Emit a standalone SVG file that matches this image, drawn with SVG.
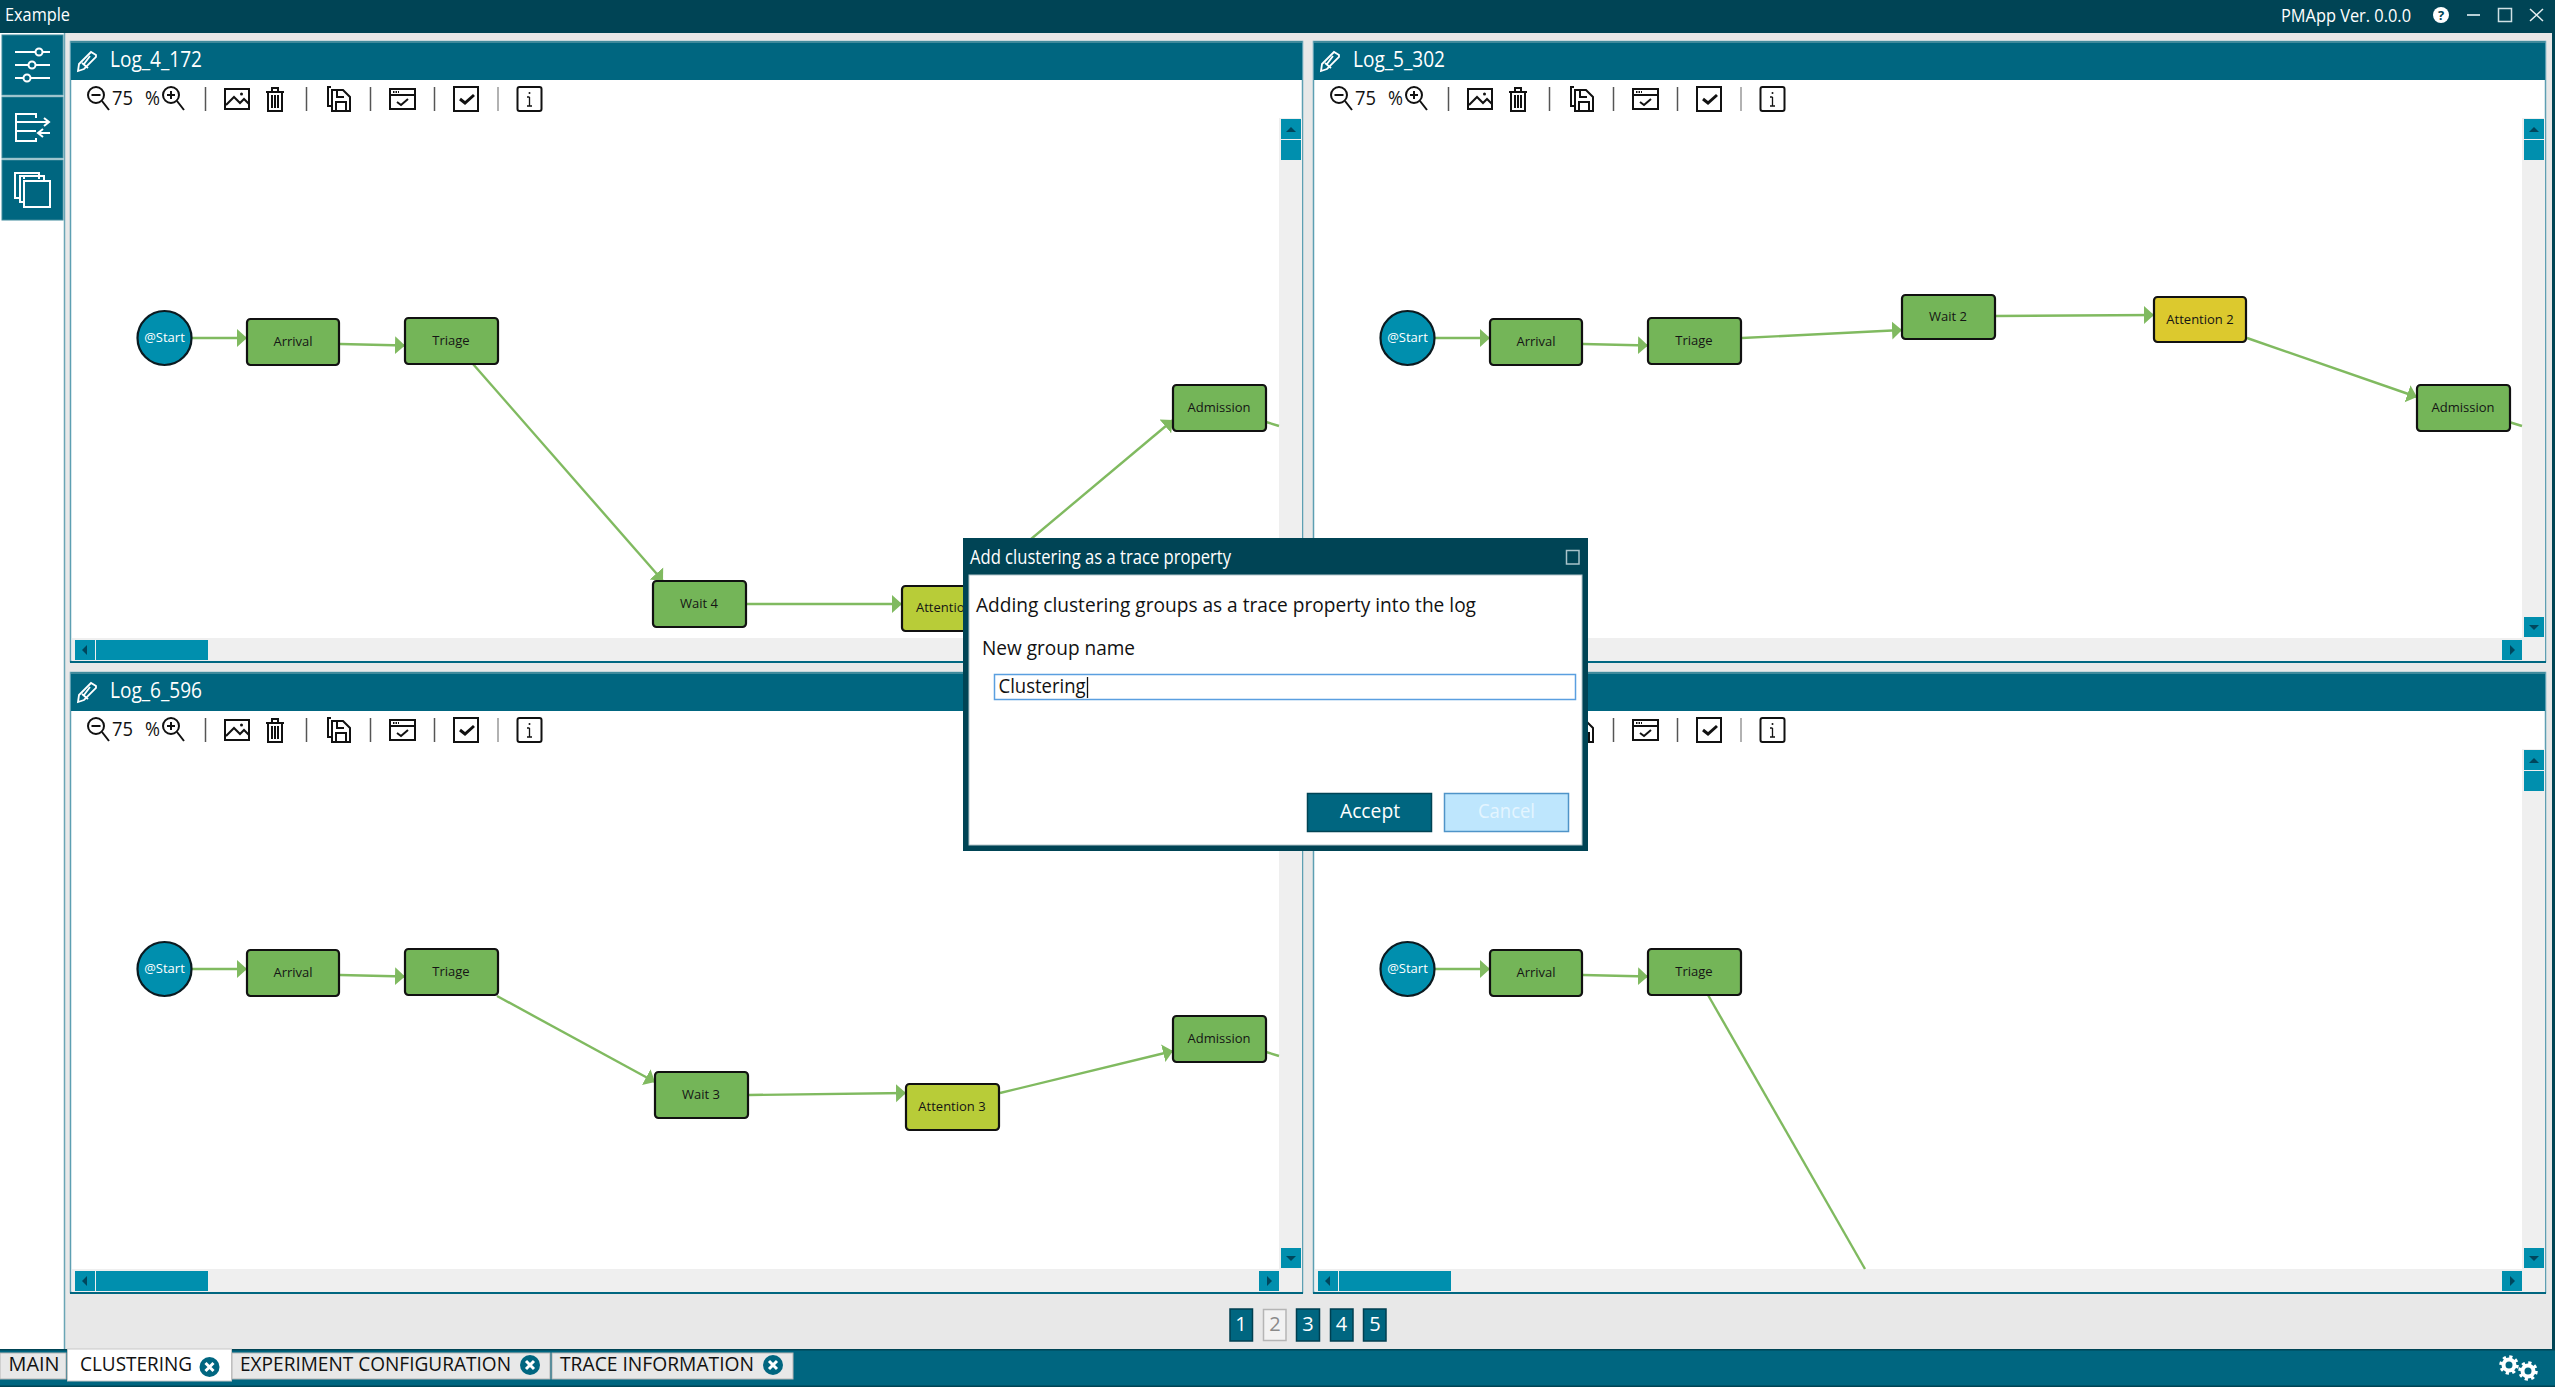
<svg xmlns="http://www.w3.org/2000/svg" xmlns:xlink="http://www.w3.org/1999/xlink" width="2555" height="1387" viewBox="0 0 2555 1387">
<style>
text{font-family:"Open Sans","Noto Sans","Liberation Sans",sans-serif;}
.ui{font-size:20px;fill:#111;}
.wh{font-size:20px;fill:#fff;}
.hd{font-size:21px;fill:#fff;}
.nt{font-size:13px;fill:#151515;text-anchor:middle;}
.st{font-size:13px;fill:#fff;text-anchor:middle;}
.act{fill:#74b558;stroke:#111;stroke-width:2.2;}
.yg{fill:#b8cc38;stroke:#111;stroke-width:2.2;}
.yl{fill:#dcc92e;stroke:#111;stroke-width:2.2;}
.start{fill:#008fae;stroke:#0b1a20;stroke-width:2.2;}
.edge{stroke:#80ba60;stroke-width:2.4;fill:none;}
.ic{fill:none;stroke:#111;stroke-width:2;}
.icw{fill:none;stroke:#fff;stroke-width:2;}
.sbtn{fill:#006680;stroke:#3f8a9c;stroke-width:1;}
.tb{fill:#008fae;}
.ar{fill:#00465c;}
.sep{stroke:#555;stroke-width:1.5;}
.tab{fill:#e8e8e8;stroke:#b5b5b5;stroke-width:1;}
.pg{fill:#006680;stroke:#003f50;stroke-width:1.5;}
</style>
<defs>
<marker id="arrow" markerUnits="userSpaceOnUse" markerWidth="11" markerHeight="20" refX="10" refY="10" orient="auto">
<polygon points="0,1 10,10 0,19" fill="#80ba60"/>
</marker>
<g id="chrome">
<rect x="70.5" y="41.5" width="1232" height="620" fill="#fff" stroke="#5d9fb2" stroke-width="1.5"/>
<line x1="70" y1="662" x2="1303" y2="662" stroke="#006680" stroke-width="2"/>
<rect x="71" y="41" width="1231" height="39" fill="#006680"/>
<rect x="71" y="41" width="1231" height="2" fill="#3f8a9c"/>
<rect x="72" y="638" width="1230" height="23" fill="#efefef"/>
<rect x="1279" y="118" width="23" height="543" fill="#efefef"/>
<rect class="tb" x="1281" y="119" width="20" height="20"/>
<polygon class="ar" points="1286,132 1296,132 1291,127"/>
<rect class="tb" x="1281" y="140" width="20" height="20"/>
<rect class="tb" x="1281" y="617" width="20" height="20"/>
<polygon class="ar" points="1286,625 1296,625 1291,630"/>
<rect class="tb" x="75" y="640" width="20" height="20"/>
<polygon class="ar" points="87,645 87,655 82,650"/>
<rect class="tb" x="96" y="640" width="112" height="20"/>
<rect class="tb" x="1259" y="640" width="20" height="20"/>
<polygon class="ar" points="1267,645 1267,655 1272,650"/>
<path d="M78 71 L79 64 L91 52 L96 55 L96 57 L84 69 Z M82 63 L88 68 M90 56 L84 64" fill="none" stroke="#fff" stroke-width="1.8"/>
</g>
<g id="tools">
<circle class="ic" cx="96" cy="95" r="8" stroke-width="2.2"/><path class="ic" d="M91.5 95h9M102 101l7 9" stroke-width="2.5"/>
<circle class="ic" cx="171" cy="95" r="8" stroke-width="2.2"/><path class="ic" d="M167 95h8M171 91v8M177 101l7 9" stroke-width="2.2"/>
<line class="sep" x1="205.5" y1="87" x2="205.5" y2="111"/>
<rect class="ic" x="225" y="89" width="24" height="20"/><path class="ic" d="M226 105l8-8 6 6 4-4 5 5" stroke-width="1.5"/><circle cx="241.500" cy="94" r="1.500" fill="#111"/>
<path class="ic" d="M266 92h18M272 92v-4h6v4M268 92v19h14V92M272 95v13M275 95v13M278 95v13" stroke-width="1.500"/>
<line class="sep" x1="306.500" y1="87" x2="306.500" y2="111"/>
<path class="ic" d="M331 87h-3v19h4M332 90h11l7 7v14h-18zM337 90v7h7M336 111v-9h10v9" stroke-width="1.700"/>
<line class="sep" x1="370.500" y1="87" x2="370.500" y2="111"/>
<rect class="ic" x="390" y="89" width="25" height="20"/><path class="ic" d="M390 95h25M397 102l4 3 7-6" stroke-width="1.500"/><path d="M393 92h6" stroke="#111" stroke-width="2" stroke-dasharray="1.500 1"/>
<line class="sep" x1="434.500" y1="87" x2="434.500" y2="111"/>
<rect class="ic" x="454" y="87" width="24" height="24"/><path d="M460 99l5 4 9-8" fill="none" stroke="#111" stroke-width="3"/>
<line x1="498" y1="87" x2="498" y2="111" stroke="#999" stroke-width="1.500"/>
<rect class="ic" x="517.500" y="87" width="24" height="24" rx="2"/><path d="M529.500 97v9M527 106h5M527 97h2.500" stroke="#111" stroke-width="1.300" fill="none"/><circle cx="529.500" cy="93" r="1" fill="#111"/>
</g>
</defs>
<rect width="2555" height="1387" fill="#e8e8e8"/>
<g id="titlebar">
<rect width="2555" height="33" fill="#004455"/>
<text x="5" y="21" class="wh" style="font-size:18px" textLength="65" lengthAdjust="spacingAndGlyphs">Example</text>
<text x="2281" y="22" class="wh" style="font-size:19px" textLength="130" lengthAdjust="spacingAndGlyphs">PMApp Ver. 0.0.0</text>
<circle cx="2441" cy="15" r="8" fill="#fff"/>
<text x="2441" y="20" text-anchor="middle" style="font-size:13px;font-weight:700;fill:#004455">?</text>
<line x1="2467" y1="15" x2="2480" y2="15" stroke="#b7d0d6" stroke-width="2"/>
<rect x="2498.500" y="8.500" width="13" height="13" fill="none" stroke="#cfe0e4" stroke-width="1.500"/>
<path d="M2530 9l13 12M2543 9l-13 12" stroke="#e6eef0" stroke-width="1.500" fill="none"/>
</g>
<rect x="2552" y="33" width="3" height="1317" fill="#004455"/>
<g id="sidebar">
<rect x="0" y="33" width="64" height="1317" fill="#fff"/>
<line x1="64.500" y1="33" x2="64.500" y2="1350" stroke="#6aa5b5" stroke-width="1.500"/>
<rect class="sbtn" x="2" y="35" width="61" height="60"/>
<rect class="sbtn" x="2" y="97" width="61" height="61"/>
<rect class="sbtn" x="2" y="160" width="61" height="60"/>
<path class="icw" d="M15 52h20M43 52h7M15 65h13M36 65h14M15 78h8M31 78h19"/>
<circle class="icw" cx="39" cy="52" r="3.500"/><circle class="icw" cx="32" cy="65" r="3.500"/><circle class="icw" cx="27" cy="78" r="3.500"/>
<path class="icw" d="M36 118v-4H16v27h20v-3M16 122h20M16 131h20M36 122h13M44 118l5 4-5 4M50 133H38M43 129l-5 4 5 4"/>
<path class="icw" d="M20 198h-5v-25h24v6"/><path class="icw" d="M24 179v-2"/>
<rect class="icw" x="20" y="176" width="24" height="26"/><rect x="24" y="181" width="26" height="26" fill="#006680" stroke="#fff" stroke-width="2"/>
</g>
<g id="panels">
<use xlink:href="#chrome" href="#chrome"/>
<use xlink:href="#chrome" href="#chrome" transform="translate(1243,0)"/>
<use xlink:href="#chrome" href="#chrome" transform="translate(0,631)"/>
<use xlink:href="#chrome" href="#chrome" transform="translate(1243,631)"/>
<use xlink:href="#tools" href="#tools"/>
<use xlink:href="#tools" href="#tools" transform="translate(1243,0)"/>
<use xlink:href="#tools" href="#tools" transform="translate(0,631)"/>
<use xlink:href="#tools" href="#tools" transform="translate(1243,631)"/>
<text x="110" y="67" class="hd" textLength="92" lengthAdjust="spacingAndGlyphs">Log_4_172</text>
<text x="1353" y="67" class="hd" textLength="92" lengthAdjust="spacingAndGlyphs">Log_5_302</text>
<text x="110" y="698" class="hd" textLength="92" lengthAdjust="spacingAndGlyphs">Log_6_596</text>
<text x="112" y="105" class="ui" textLength="21" lengthAdjust="spacingAndGlyphs">75</text>
<text x="145" y="105" class="ui" textLength="15" lengthAdjust="spacingAndGlyphs">%</text>
<text x="1355" y="105" class="ui" textLength="21" lengthAdjust="spacingAndGlyphs">75</text>
<text x="1388" y="105" class="ui" textLength="15" lengthAdjust="spacingAndGlyphs">%</text>
<text x="112" y="736" class="ui" textLength="21" lengthAdjust="spacingAndGlyphs">75</text>
<text x="145" y="736" class="ui" textLength="15" lengthAdjust="spacingAndGlyphs">%</text>
</g>
<g id="connectors">
<line class="edge" x1="191" y1="338" x2="247" y2="338" marker-end="url(#arrow)"/>
<line class="edge" x1="340" y1="344" x2="405" y2="345.500" marker-end="url(#arrow)"/>
<line class="edge" x1="473" y1="364" x2="663" y2="581" marker-end="url(#arrow)"/>
<line class="edge" x1="747" y1="604" x2="902" y2="604" marker-end="url(#arrow)"/>
<line class="edge" x1="1000" y1="565" x2="1173" y2="420" marker-end="url(#arrow)"/>
<line class="edge" x1="1266" y1="422" x2="1279" y2="426"/>
<line class="edge" x1="1434" y1="338" x2="1490" y2="338" marker-end="url(#arrow)"/>
<line class="edge" x1="1583" y1="344" x2="1648" y2="345.500" marker-end="url(#arrow)"/>
<line class="edge" x1="1742" y1="338" x2="1902" y2="330" marker-end="url(#arrow)"/>
<line class="edge" x1="1995" y1="316" x2="2154" y2="315" marker-end="url(#arrow)"/>
<line class="edge" x1="2247" y1="338" x2="2417" y2="397" marker-end="url(#arrow)"/>
<line class="edge" x1="2509" y1="422" x2="2522" y2="426"/>
<line class="edge" x1="191" y1="969" x2="247" y2="969" marker-end="url(#arrow)"/>
<line class="edge" x1="340" y1="975" x2="405" y2="976.500" marker-end="url(#arrow)"/>
<line class="edge" x1="497" y1="996" x2="655" y2="1082" marker-end="url(#arrow)"/>
<line class="edge" x1="749" y1="1095" x2="906" y2="1093" marker-end="url(#arrow)"/>
<line class="edge" x1="1000" y1="1093" x2="1173" y2="1051" marker-end="url(#arrow)"/>
<line class="edge" x1="1266" y1="1052" x2="1279" y2="1056"/>
<line class="edge" x1="1434" y1="969" x2="1490" y2="969" marker-end="url(#arrow)"/>
<line class="edge" x1="1583" y1="975" x2="1648" y2="976.500" marker-end="url(#arrow)"/>
<line class="edge" x1="1708" y1="995" x2="1865" y2="1269"/>
</g>
<g id="n1-start"><circle class="start" cx="164.500" cy="338" r="27"/><text class="st" x="164.500" y="342">@Start</text></g>
<g id="n1-arrival"><rect class="act" x="247" y="319" width="92" height="46" rx="3.500"/><text class="nt" x="293" y="346">Arrival</text></g>
<g id="n1-triage"><rect class="act" x="405" y="318" width="93" height="46" rx="3.500"/><text class="nt" x="451" y="345">Triage</text></g>
<g id="n1-wait4"><rect class="act" x="653" y="581" width="93" height="46" rx="3.500"/><text class="nt" x="699" y="608">Wait 4</text></g>
<g id="n1-attention"><rect class="yg" x="902" y="586" width="93" height="45" rx="3.500"/><text x="916" y="612" style="font-size:13px;fill:#151515">Attentio</text></g>
<g id="n1-admission"><rect class="act" x="1173" y="385" width="93" height="46" rx="3.500"/><text class="nt" x="1219" y="412">Admission</text></g>
<g id="n2-start"><circle class="start" cx="1407.500" cy="338" r="27"/><text class="st" x="1407.500" y="342">@Start</text></g>
<g id="n2-arrival"><rect class="act" x="1490" y="319" width="92" height="46" rx="3.500"/><text class="nt" x="1536" y="346">Arrival</text></g>
<g id="n2-triage"><rect class="act" x="1648" y="318" width="93" height="46" rx="3.500"/><text class="nt" x="1694" y="345">Triage</text></g>
<g id="n2-wait2"><rect class="act" x="1902" y="295" width="93" height="44" rx="3.500"/><text class="nt" x="1948" y="321">Wait 2</text></g>
<g id="n2-attention2"><rect class="yl" x="2154" y="297" width="92" height="45" rx="3.500"/><text class="nt" x="2200" y="324">Attention 2</text></g>
<g id="n2-admission"><rect class="act" x="2417" y="385" width="93" height="46" rx="3.500"/><text class="nt" x="2463" y="412">Admission</text></g>
<g id="n3-start"><circle class="start" cx="164.500" cy="969" r="27"/><text class="st" x="164.500" y="973">@Start</text></g>
<g id="n3-arrival"><rect class="act" x="247" y="950" width="92" height="46" rx="3.500"/><text class="nt" x="293" y="977">Arrival</text></g>
<g id="n3-triage"><rect class="act" x="405" y="949" width="93" height="46" rx="3.500"/><text class="nt" x="451" y="976">Triage</text></g>
<g id="n3-wait3"><rect class="act" x="655" y="1072" width="93" height="46" rx="3.500"/><text class="nt" x="701" y="1099">Wait 3</text></g>
<g id="n3-attention3"><rect class="yg" x="906" y="1084" width="93" height="46" rx="3.500"/><text class="nt" x="952" y="1111">Attention 3</text></g>
<g id="n3-admission"><rect class="act" x="1173" y="1016" width="93" height="46" rx="3.500"/><text class="nt" x="1219" y="1043">Admission</text></g>
<g id="n4-start"><circle class="start" cx="1407.500" cy="969" r="27"/><text class="st" x="1407.500" y="973">@Start</text></g>
<g id="n4-arrival"><rect class="act" x="1490" y="950" width="92" height="46" rx="3.500"/><text class="nt" x="1536" y="977">Arrival</text></g>
<g id="n4-triage"><rect class="act" x="1648" y="949" width="93" height="46" rx="3.500"/><text class="nt" x="1694" y="976">Triage</text></g>
<g id="pagination">
<rect class="pg" x="1230" y="1309" width="22.500" height="32"/><text class="wh" x="1241" y="1331" text-anchor="middle">1</text>
<rect x="1263.500" y="1309.500" width="22.500" height="31" fill="#f2f2f2" stroke="#b5b5b5" stroke-width="1.500"/><text x="1275" y="1331" text-anchor="middle" style="font-size:20px;fill:#8a8a8a">2</text>
<rect class="pg" x="1296.500" y="1309" width="23" height="32"/><text class="wh" x="1308" y="1331" text-anchor="middle">3</text>
<rect class="pg" x="1330.500" y="1309" width="22.500" height="32"/><text class="wh" x="1341.500" y="1331" text-anchor="middle">4</text>
<rect class="pg" x="1363.500" y="1309" width="22.500" height="32"/><text class="wh" x="1375" y="1331" text-anchor="middle">5</text>
</g>
<g id="tabbar">
<rect x="0" y="1349" width="2555" height="38" fill="#006680"/>
<rect x="0" y="1349" width="2555" height="1.500" fill="#004455"/>
<rect x="0" y="1385.500" width="2555" height="1.500" fill="#004455"/>
<rect class="tab" x="0" y="1353" width="66" height="26"/>
<text class="ui" x="8.500" y="1371" textLength="51" lengthAdjust="spacingAndGlyphs">MAIN</text>
<rect x="67.500" y="1349" width="164" height="32" fill="#fff" stroke="#c8c8c8"/>
<text class="ui" x="80" y="1371" textLength="112" lengthAdjust="spacingAndGlyphs">CLUSTERING</text>
<circle cx="209.500" cy="1367" r="10" fill="#006680"/><path d="M205.500 1363l8 8M213.500 1363l-8 8" stroke="#fff" stroke-width="3"/>
<rect class="tab" x="232" y="1353" width="318" height="26"/>
<text class="ui" x="240" y="1371" textLength="271" lengthAdjust="spacingAndGlyphs">EXPERIMENT CONFIGURATION</text>
<circle cx="530" cy="1365" r="10" fill="#006680"/><path d="M526 1361l8 8M534 1361l-8 8" stroke="#fff" stroke-width="3"/>
<rect class="tab" x="552" y="1353" width="241" height="26"/>
<text class="ui" x="560" y="1371" textLength="194" lengthAdjust="spacingAndGlyphs">TRACE INFORMATION</text>
<circle cx="773" cy="1365" r="10" fill="#006680"/><path d="M769 1361l8 8M777 1361l-8 8" stroke="#fff" stroke-width="3"/>
<g fill="none" stroke="#fff">
<circle cx="2509" cy="1365" r="5.500" stroke-width="4"/><circle cx="2509" cy="1365" r="8" stroke-width="3.500" stroke-dasharray="3.100 3.180"/>
<circle cx="2528" cy="1371" r="5.500" stroke-width="4"/><circle cx="2528" cy="1371" r="8" stroke-width="3.500" stroke-dasharray="3.100 3.180"/>
</g>
</g>
<g id="dialog">
<rect x="963" y="538" width="625" height="313" fill="#004455"/>
<rect x="969" y="575" width="613" height="270" fill="#fff" stroke="#b5c6cb"/>
<text x="970" y="564" class="wh" textLength="261" lengthAdjust="spacingAndGlyphs">Add clustering as a trace property</text>
<rect x="1566.500" y="550.500" width="12.500" height="13.500" fill="none" stroke="#a9c3ca" stroke-width="1.500"/>
<text x="976" y="612" class="ui" textLength="500" lengthAdjust="spacingAndGlyphs">Adding clustering groups as a trace property into the log</text>
<text x="982" y="655" class="ui" textLength="153" lengthAdjust="spacingAndGlyphs">New group name</text>
<rect x="994.500" y="674.500" width="581" height="25" fill="#fff" stroke="#5a9fe0" stroke-width="1.500"/>
<text x="998.500" y="693" class="ui" textLength="87" lengthAdjust="spacingAndGlyphs">Clustering</text>
<line x1="1087.500" y1="677" x2="1087.500" y2="698" stroke="#111" stroke-width="1.300"/>
<rect x="1307.500" y="793.500" width="124" height="38" fill="#006680" stroke="#004455" stroke-width="1.500"/>
<text x="1340" y="818" class="wh" textLength="60" lengthAdjust="spacingAndGlyphs">Accept</text>
<rect x="1444.500" y="793.500" width="124" height="38" fill="#bee6fd" stroke="#4f94c8" stroke-width="1.500"/>
<text x="1478" y="818" style="font-size:20px;fill:#e4f5ff" textLength="57" lengthAdjust="spacingAndGlyphs">Cancel</text>
</g>
</svg>
